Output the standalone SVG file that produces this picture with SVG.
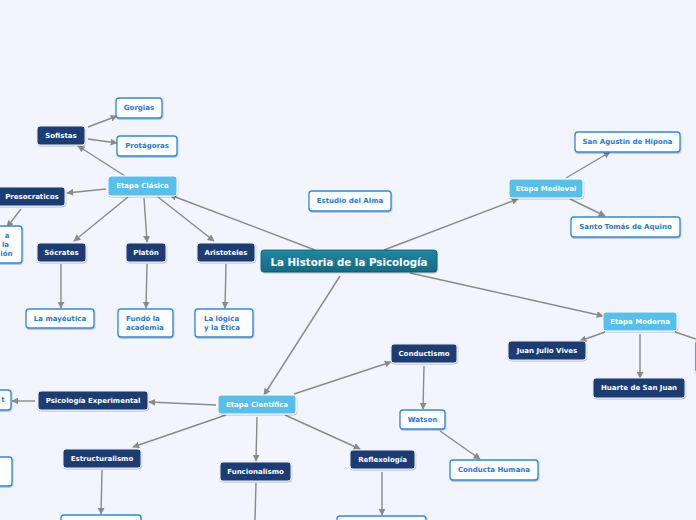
<svg xmlns="http://www.w3.org/2000/svg" width="696" height="520" viewBox="0 0 696 520">
<defs>
<marker id="ah" viewBox="0 0 10 10" refX="9" refY="5" markerWidth="7" markerHeight="7" markerUnits="userSpaceOnUse" orient="auto">
<path d="M0,0 L10,5 L0,10 z" fill="#8a8a8a"/>
</marker>
<linearGradient id="cg" x1="0" y1="0" x2="0" y2="1">
<stop offset="0" stop-color="#1f88a3"/>
<stop offset="1" stop-color="#136a84"/>
</linearGradient>
<filter id="sh" x="-10%" y="-20%" width="120%" height="160%">
<feDropShadow dx="0.5" dy="1" stdDeviation="0.7" flood-color="#000" flood-opacity="0.25"/>
</filter>
<style>
text{font-family:"DejaVu Sans",Verdana,sans-serif;font-weight:bold;font-size:7px;text-anchor:middle;dominant-baseline:central}
.dk rect{fill:#1c3e73;stroke:#e8ecf4;stroke-width:1;filter:url(#sh)}
.dk text{fill:#fff}
.lb rect{fill:#57bfeb;stroke:#ffffff;stroke-width:1;filter:url(#sh)}
.lb text{fill:#fff}
.wh rect{fill:#fff;stroke:#2d89e5;stroke-width:1.3;filter:url(#sh)}
.wh text{fill:#1f78d6}
.ct rect{fill:url(#cg);stroke:#0f5b72;stroke-width:0.8;filter:url(#sh)}
.ct text{fill:#fff;font-size:10.3px}
#conn path{fill:none;stroke:#8a8a8a;stroke-width:1.4;marker-end:url(#ah)}
#conn path.na{marker-end:none}
</style>
</defs>
<rect width="696" height="520" fill="#f2f5fd"/>
<g id="conn">
<path d="M315,250 L170,195"/>
<path d="M384,250 L518,199"/>
<path d="M410,273 L603,316"/>
<path d="M340,276 L264,395"/>
<path d="M125,176 L78,146"/>
<path d="M88,127 L117,116"/>
<path d="M88,139 L117,143"/>
<path d="M106,189 L67,193"/>
<path d="M21,209 L7,227"/>
<path d="M128,197 L74,241"/>
<path d="M144,198 L147,242"/>
<path d="M158,197 L214,241"/>
<path d="M61,264 L61,308"/>
<path d="M147,264 L146,308"/>
<path d="M226,264 L225,308"/>
<path d="M566,178 L610,152"/>
<path d="M570,199 L605,216"/>
<path d="M605,332 L580,341"/>
<path d="M640,334 L640,378"/>
<path class="na" d="M675,332 L696,339"/>
<path d="M216,405 L149,402"/>
<path d="M35,401 L12,401"/>
<path d="M226,415 L133,447"/>
<path d="M257,417 L256,461"/>
<path d="M294,394 L391,362"/>
<path d="M285,415 L360,449"/>
<path d="M424,366 L423,409"/>
<path d="M440,431 L480,459"/>
<path d="M102,470 L101,514"/>
<path d="M382,472 L382,515"/>
<path class="na" d="M256,483 L255,520"/>
</g>
<g id="central" class="ct"><rect x="261" y="250" width="176" height="22" rx="3"/><text x="349" y="261.5">La Historia de la Psicología</text></g>
<g id="etapa-clasica" class="lb"><rect x="108" y="176" width="69" height="20" rx="3"/><text x="142.5" y="186">Etapa Clásica</text></g>
<g id="sofistas" class="dk"><rect x="37" y="126" width="48" height="19" rx="3"/><text x="61" y="135.5">Sofistas</text></g>
<g id="gorgias" class="wh"><rect x="116" y="98" width="46" height="20" rx="3"/><text x="139" y="108">Gorgias</text></g>
<g id="protagoras" class="wh"><rect x="117" y="136" width="60" height="20" rx="3"/><text x="147" y="146">Protágoras</text></g>
<g id="presocraticos" class="dk"><rect x="-10" y="187" width="75" height="19" rx="3"/><text x="32" y="196.5">Presocraticos</text></g>
<g id="presocraticos-desc" class="wh"><rect x="-50" y="226" width="72" height="37" rx="3"/><text x="9.5" y="235.5" style="text-anchor:end">a</text><text x="9" y="244.5" style="text-anchor:end">la</text><text x="12.5" y="253.5" style="text-anchor:end">ión</text></g>
<g id="socrates" class="dk"><rect x="37" y="243" width="49" height="19" rx="3"/><text x="61.5" y="252.5">Sócrates</text></g>
<g id="platon" class="dk"><rect x="126" y="243" width="40" height="19" rx="3"/><text x="146" y="252.5">Platón</text></g>
<g id="aristoteles" class="dk"><rect x="197" y="243" width="58" height="19" rx="3"/><text x="226" y="252.5">Aristoteles</text></g>
<g id="mayeutica" class="wh"><rect x="26" y="309" width="68" height="19" rx="3"/><text x="60" y="318.5">La mayéutica</text></g>
<g id="academia" class="wh"><rect x="118" y="309" width="55" height="28" rx="3"/><text x="126" y="318.5" style="text-anchor:start">Fundó la</text><text x="126" y="327.5" style="text-anchor:start">academia</text></g>
<g id="logica" class="wh"><rect x="195" y="309" width="58" height="28" rx="3"/><text x="204" y="318.5" style="text-anchor:start">La lógica</text><text x="204" y="327.5" style="text-anchor:start">y la Ética</text></g>
<g id="estudio-alma" class="wh"><rect x="309" y="191" width="82" height="20" rx="3"/><text x="350" y="201">Estudio del Alma</text></g>
<g id="etapa-medieval" class="lb"><rect x="509" y="179" width="74" height="19" rx="3"/><text x="546" y="188.5">Etapa Medieval</text></g>
<g id="san-agustin" class="wh"><rect x="575" y="132" width="105" height="20" rx="3"/><text x="627.5" y="142">San Agustin de Hipona</text></g>
<g id="santo-tomas" class="wh"><rect x="571" y="217" width="109" height="20" rx="3"/><text x="625.5" y="227">Santo Tomás de Aquino</text></g>
<g id="etapa-moderna" class="lb"><rect x="603" y="312" width="74" height="19" rx="3"/><text x="640" y="321.5">Etapa Moderna</text></g>
<g id="vives" class="dk"><rect x="508" y="341" width="78" height="19" rx="3"/><text x="547" y="350.5">Juan Julio Vives</text></g>
<g id="huarte" class="dk"><rect x="593" y="378" width="92" height="20" rx="3"/><text x="639" y="388">Huarte de San Juan</text></g>
<g id="moderna-3" class="dk"><rect x="695" y="340" width="60" height="33" rx="3"/></g>
<g id="etapa-cientifica" class="lb"><rect x="218" y="395" width="78" height="19" rx="3"/><text x="257" y="404.5">Etapa Científica</text></g>
<g id="psic-exp" class="dk"><rect x="38" y="391" width="110" height="19" rx="3"/><text x="93" y="400.5">Psicología Experimental</text></g>
<g id="psic-exp-desc" class="wh"><rect x="-40" y="390" width="51" height="20" rx="3"/><text x="3" y="400">t</text></g>
<g id="left-partial" class="wh"><rect x="-40" y="457" width="52" height="29" rx="3"/></g>
<g id="estructuralismo" class="dk"><rect x="63" y="449" width="78" height="19" rx="3"/><text x="102" y="458.5">Estructuralismo</text></g>
<g id="funcionalismo" class="dk"><rect x="220" y="462" width="71" height="19" rx="3"/><text x="255.5" y="471.5">Funcionalismo</text></g>
<g id="conductismo" class="dk"><rect x="391" y="344" width="66" height="19" rx="3"/><text x="424" y="353.5">Conductismo</text></g>
<g id="watson" class="wh"><rect x="400" y="410" width="45" height="19" rx="3"/><text x="422.5" y="419.5">Watson</text></g>
<g id="conducta-humana" class="wh"><rect x="450" y="460" width="88" height="20" rx="3"/><text x="494" y="470">Conducta Humana</text></g>
<g id="reflexologia" class="dk"><rect x="350" y="450" width="65" height="19" rx="3"/><text x="382.5" y="459.5">Reflexología</text></g>
<g id="estruct-desc" class="wh"><rect x="61" y="515" width="80" height="20" rx="3"/></g>
<g id="reflex-desc" class="wh"><rect x="337" y="516" width="89" height="20" rx="3"/></g>
</svg>
